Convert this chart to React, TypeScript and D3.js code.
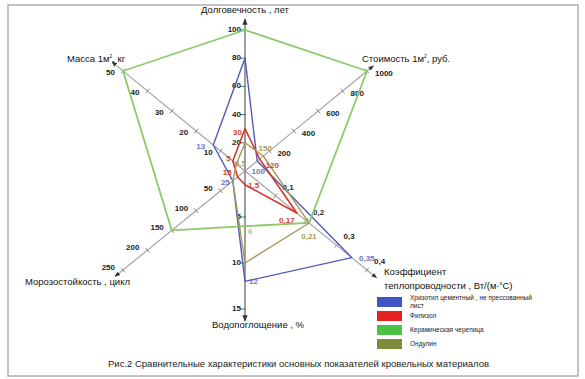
import React from "react";
import * as d3 from "d3";

// axis order: durability (up), cost (upper-right), thermal (lower-right), water (down), frost (lower-left), mass (upper-left)
const axisKeys = ["dur", "cost", "therm", "water", "frost", "mass"];
const axisMax = [100, 1000, 0.4, 15, 250, 50];
const durTicks = [20, 40, 60, 80, 100];
const costTicks = [200, 400, 600, 800, 1000];
const thermTicks = [0.1, 0.2, 0.3, 0.4];
const waterTicks = [5, 10, 15];
const frostTicks = [50, 100, 150, 200, 250];
const massTicks = [10, 20, 30, 40, 50];

const seriesNames = [
  "Хризотил цементный , не прессованный лист",
  "Филизол",
  "Керамическая черепица",
  "Ондулин",
];
const chrysotile = [80, 100, 0.35, 12, 25, 13];
const filizol = [30, 120, 0.17, 1.5, 15, 5];
const ceramic = [100, 1000, 0.21, 6, 150, 50];
const ondulin = [20, 150, 0.21, 10, 25, 3.5];

const chrysotileLabels = ["", "100", "0,35", "12", "25", "13"];
const filizolLabels = ["30", "120", "0,17", "1,5", "15", "5"];
const ceramicLabels = ["", "", "", "6", "", ""];
const ondulinLabels = ["", "150", "0,21", "", "", "3,5"];

const fmt = (v: number) => String(v).replace(".", ",");

export default function App() {
  const cx = 245, cy = 171;
  const dirs: [number, number][] = [
    [0, -1],
    [122 / 157.7, -100 / 157.7],
    [122 / 157.7, 99 / 157.7],
    [0, 1],
    [-122 / 157.7, 99 / 157.7],
    [-122 / 157.7, -100 / 157.7],
  ];
  const lens = [141, 157.7, 157.7, 138, 157.7, 157.7];
  const arrowLen = [152, 166, 170, 150, 168, 172];
  const scales = axisMax.map((m, i) => d3.scaleLinear().domain([0, m]).range([0, lens[i]]));
  const pt = (i: number, v: number): [number, number] => {
    const r = scales[i](v);
    return [cx + dirs[i][0] * r, cy + dirs[i][1] * r];
  };
  const tickSets = [durTicks, costTicks, thermTicks, waterTicks, frostTicks, massTicks];

  const colors = ["#4f5cb8", "#d8352a", "#8cca68", "#a39a55"];
  const labelColors = ["#6a78c4", "#d5402e", "#9fca86", "#a89d5c"];
  const legendColors = ["#3f56c4", "#e52222", "#4cc245", "#7f8c3e"];
  const data = [chrysotile, filizol, ceramic, ondulin];
  const labels = [chrysotileLabels, filizolLabels, ceramicLabels, ondulinLabels];
  const widths = [1.4, 1.6, 1.8, 1.4];

  const labelOff: [number, number, string][][] = [
    [[0, 0, "middle"], [1, 10, "middle"], [15, 0, "middle"], [4, 0, "start"], [-3, 1, "end"], [-8, 1, "end"]],
    [[-3, 3, "end"], [6, 6, "start"], [-10, 7, "middle"], [3, 0, "start"], [-6, -5, "end"], [-2, -3, "end"]],
    [[0, 0, "middle"], [0, 0, "middle"], [0, 0, "middle"], [3, 5, "start"], [0, 0, "middle"], [0, 0, "middle"]],
    [[0, 0, "middle"], [2, -8, "middle"], [0, 13, "middle"], [0, 0, "middle"], [0, 0, "middle"], [4, -1, "middle"]],
  ];

  const line = d3.line<[number, number]>().curve(d3.curveLinearClosed);
  const font = "'Liberation Sans', Arial, sans-serif";

  const tickLabelOff: [number, number, string][] = [
    [-4, 2, "end"],
    [8, 5, "start"],
    [7, -6, "start"],
    [-4, 2, "end"],
    [-8, 0, "end"],
    [-8, 4, "end"],
  ];

  return (
    <svg width={585} height={379} style={{ position: "absolute", left: 0, top: 0, background: "#fff" }} fontFamily={font}>
      <defs>
        <marker id="arr" viewBox="0 0 10 10" refX="9" refY="5" markerWidth="5" markerHeight="5" orient="auto">
          <path d="M0,1 L10,5 L0,9 z" fill="#333" />
        </marker>
      </defs>
      <rect x={8} y={5} width={570} height={371} fill="#fff" stroke="#b0b0b0" strokeWidth={1.5} />

      {axisKeys.map((k, i) => {
        const r = arrowLen[i];
        const x2 = cx + dirs[i][0] * r, y2 = cy + dirs[i][1] * r;
        const vertical = i === 0 || i === 3;
        return (
          <g key={k}>
            <line x1={cx} y1={cy} x2={x2} y2={y2} stroke={vertical ? "#6a6a6a" : "#a0a0a0"} strokeWidth={vertical ? 1.3 : 1.1} markerEnd="url(#arr)" />
            {tickSets[i].map((t) => {
              const [px, py] = pt(i, t);
              const nx = -dirs[i][1], ny = dirs[i][0];
              const tl = 3;
              return (
                <g key={t}>
                  {vertical ? (
                    <line x1={px - 5} y1={py} x2={px + 1} y2={py} stroke="#666" strokeWidth={1} />
                  ) : (
                    <line x1={px - nx * tl} y1={py - ny * tl} x2={px + nx * tl} y2={py + ny * tl} stroke="#888" strokeWidth={1} />
                  )}
                  <text x={px + tickLabelOff[i][0]} y={py + tickLabelOff[i][1]} textAnchor={tickLabelOff[i][2] as any} fontSize={8} fontWeight="bold" fill="#222">
                    {fmt(t)}
                  </text>
                </g>
              );
            })}
          </g>
        );
      })}

      {data.map((vals, s) => (
        <path key={s} d={line(vals.map((v, i) => pt(i, v))) || ""} fill="none" stroke={colors[s]} strokeWidth={widths[s]} strokeLinejoin="round" />
      ))}

      {data.map((vals, s) =>
        vals.map((v, i) => {
          const lab = labels[s][i];
          if (!lab) return null;
          const [px, py] = pt(i, v);
          const o = labelOff[s][i];
          return (
            <text key={`${s}-${i}`} x={px + o[0]} y={py + o[1] + 3} textAnchor={o[2] as any} fontSize={8} fontWeight="bold" fill={labelColors[s]}>
              {lab}
            </text>
          );
        })
      )}

      <g fontSize={9.5} fill="#111">
        <text x={245} y={13} textAnchor="middle">Долговечность , лет</text>
        <text x={67} y={62}>
          Масса 1м<tspan fontSize={5} dy={-4}>2</tspan><tspan dy={4}>, кг</tspan>
        </text>
        <text x={362} y={62}>
          Стоимость 1м<tspan fontSize={5} dy={-4}>2</tspan><tspan dy={4}>, руб.</tspan>
        </text>
        <text x={384} y={275}>Коэффициент</text>
        <text x={384} y={289}>
          теплопроводности , Вт/(м·<tspan fontSize={5} dy={-4}>o</tspan><tspan dy={4}>С)</tspan>
        </text>
        <text x={212} y={328}>Водопоглощение , %</text>
        <text x={25} y={285}>Морозостойкость , цикл</text>
      </g>

      <g fontSize={6.5} fill="#222">
        {seriesNames.map((n, i) => {
          const y = 297 + i * 14;
          return (
            <g key={n}>
              <rect x={377} y={y} width={25} height={10} fill={legendColors[i]} />
              {i === 0 ? (
                <>
                  <text x={410} y={300}>Хризотил цементный , не прессованный</text>
                  <text x={410} y={308}>лист</text>
                </>
              ) : (
                <text x={410} y={y + 7}>{n}</text>
              )}
            </g>
          );
        })}
      </g>

      <text x={108} y={367} fontSize={9.5} fill="#222">
        Рис.2 Сравнительные характеристики основных показателей кровельных материалов
      </text>
    </svg>
  );
}
